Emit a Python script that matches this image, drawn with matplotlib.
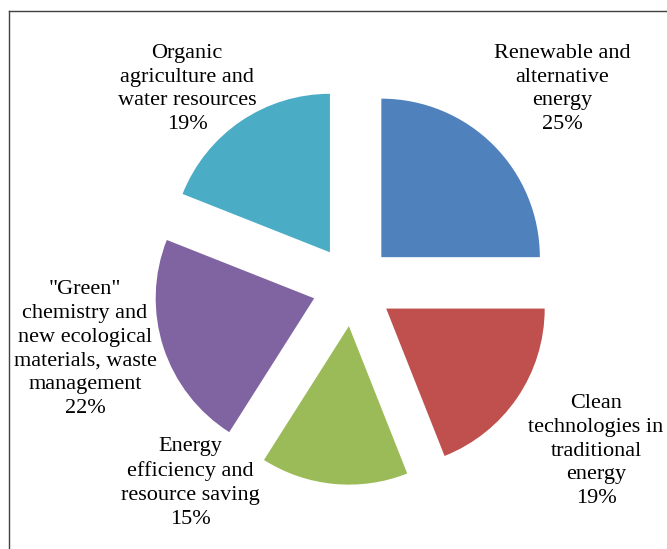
import matplotlib
matplotlib.use("Agg")
import matplotlib.pyplot as plt
from matplotlib.lines import Line2D

categories = [
    "Renewable and\nalternative\nenergy",
    "Clean\ntechnologies in\ntraditional\nenergy",
    "Energy\nefficiency and\nresource saving",
    "\"Green\"\nchemistry and\nnew ecological\nmaterials, waste\nmanagement",
    "Organic\nagriculture and\nwater resources",
]
values = [25, 19, 15, 22, 19]
colors = ["#4F81BD", "#C0504D", "#9BBB59", "#8064A2", "#4BACC6"]
# label block centres (pixels from top-left)
label_pos = [(562, 89), (596, 451), (190, 483), (85, 349), (187, 89)]

W, H = 667, 549
fig = plt.figure(figsize=(W / 100, H / 100), dpi=100)
ax = fig.add_axes([0, 0, 1, 1])

ax.pie(values, colors=colors, startangle=90, counterclock=False,
       center=(352.7, H - 285.8), radius=158.5,
       explode=[40.5] * len(values), frame=True,
       wedgeprops=dict(linewidth=0))
ax.set_xlim(0, W)
ax.set_ylim(0, H)
ax.axis("off")

for cat, v, (x, y) in zip(categories, values, label_pos):
    ax.text(x, H - y, f"{cat}\n{v}%", ha="center", va="center",
            multialignment="center", family="Liberation Serif",
            fontsize=16, linespacing=1.35, color="#000000")

# chart frame (top and left edges visible)
fig.add_artist(Line2D([8.5 / W, 1], [1 - 11 / H, 1 - 11 / H], color="#404040", lw=1.0))
fig.add_artist(Line2D([8.5 / W, 8.5 / W], [0, 1 - 11 / H], color="#404040", lw=1.0))

fig.savefig("out.png", dpi=100)
